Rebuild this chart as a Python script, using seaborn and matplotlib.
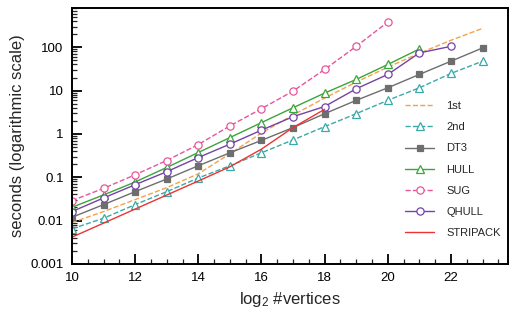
import matplotlib
matplotlib.use("Agg")
import matplotlib.pyplot as plt
import matplotlib.ticker as mticker
import seaborn as sns
import numpy as np
import pandas as pd

# ---- data ----
n_all = [10, 11, 12, 13, 14, 15, 16, 17, 18, 19, 20, 21, 22, 23]
first = [0.0090, 0.0161, 0.0304, 0.0574, 0.120, 0.347, 1.05, 2.73, 6.73, 15.7, 34.7, 72.8, 145, 273]
second = [0.00644, 0.0113, 0.0233, 0.0464, 0.0959, 0.184, 0.366, 0.728, 1.47, 2.93, 5.95, 11.6, 24.9, 47.7]
dt3 = [0.0119, 0.0233, 0.0464, 0.0909, 0.184, 0.366, 0.709, 1.40, 2.93, 5.95, 11.6, 23.6, 47.7, 96.4]
n_hull = [10, 11, 12, 13, 14, 15, 16, 17, 18, 19, 20, 21]
hull = [0.0202, 0.0390, 0.0776, 0.168, 0.372, 0.822, 1.82, 4.02, 8.76, 18.1, 40.0, 91.4]
n_sug = [10, 11, 12, 13, 14, 15, 16, 17, 18, 19, 20]
sug = [0.0288, 0.0553, 0.114, 0.243, 0.568, 1.53, 3.82, 9.74, 30.7, 105, 382]
n_qhull = [10, 11, 12, 13, 14, 15, 16, 17, 18, 19, 20, 21, 22]
qhull = [0.0161, 0.0332, 0.0672, 0.134, 0.285, 0.580, 1.22, 2.50, 4.29, 11.0, 23.6, 74.0, 105]
n_strip = [10, 11, 12, 13, 14, 15, 16, 17, 18]
stripack = [0.00413, 0.00871, 0.0184, 0.0388, 0.0818, 0.174, 0.445, 1.40, 3.70]

x_ticks = [10, 12, 14, 16, 18, 20, 22]
y_ticks = [0.001, 0.01, 0.1, 1, 10, 100]
y_ticklabels = ["0.001", "0.01", "0.1", "1", "10", "100"]

sns.set_style("white")
plt.rcParams["font.family"] = ["Liberation Sans", "DejaVu Sans"]
plt.rcParams["mathtext.fontset"] = "custom"
plt.rcParams["mathtext.rm"] = "Liberation Sans"
plt.rcParams["mathtext.it"] = "Liberation Sans:italic"

fig = plt.figure(figsize=(5.14, 3.13), dpi=100)
ax = fig.add_axes([0.140, 0.157, 0.848, 0.817])

series = [
    ("1st", n_all, first, "#f4a24a", "--", None, "none"),
    ("2nd", n_all, second, "#3aa9a9", "--", "^", "white"),
    ("DT3", n_all, dt3, "#6e6e6e", "-", "s", "#6e6e6e"),
    ("HULL", n_hull, hull, "#3aa53a", "-", "^", "white"),
    ("SUG", n_sug, sug, "#e8559c", "--", "o", "white"),
    ("QHULL", n_qhull, qhull, "#7443a6", "-", "o", "white"),
    ("STRIPACK", n_strip, stripack, "#ee3333", "-", None, "none"),
]

for name, xs, ys, col, ls, mk, mfc in series:
    df = pd.DataFrame({"n": xs, "t": ys})
    kw = dict(color=col, linestyle=ls, linewidth=1.0, label=name)
    if mk is not None:
        ms = 4.3 if mk == "s" else 5.2
        kw.update(marker=mk, markersize=ms, markerfacecolor=mfc,
                  markeredgecolor=col, markeredgewidth=0.9)
    if ls == "--":
        kw.update(dashes=(5, 3.5))
    sns.lineplot(data=df, x="n", y="t", ax=ax, **kw)

ax.set_yscale("log")
ax.set_xlim(10, 23.8)
ax.set_ylim(0.001, 800)

ax.xaxis.set_major_locator(mticker.FixedLocator(x_ticks))
ax.xaxis.set_minor_locator(mticker.MultipleLocator(0.5))
ax.set_xticklabels([str(v) for v in x_ticks])
ax.yaxis.set_major_locator(mticker.FixedLocator(y_ticks))
ax.yaxis.set_major_formatter(mticker.FixedFormatter(y_ticklabels))
ax.yaxis.set_minor_locator(mticker.LogLocator(base=10, subs=np.arange(2, 10), numticks=20))
ax.yaxis.set_minor_formatter(mticker.NullFormatter())

ax.tick_params(which="major", direction="in", length=7, width=1.3, labelsize=9.5,
               colors="black", top=False, right=False, pad=6)
ax.tick_params(which="minor", direction="in", length=3.5, width=0.9,
               top=False, right=False)
ax.tick_params(axis="x", which="both", bottom=True)
ax.tick_params(axis="y", which="both", left=True)

for sp in ax.spines.values():
    sp.set_linewidth(1.4)
    sp.set_color("black")

ax.set_xlabel(r"log$_2$ #vertices", fontsize=12, labelpad=4)
ax.set_ylabel("seconds (logarithmic scale)", fontsize=12, labelpad=4)

ax.legend(loc="upper left", bbox_to_anchor=(0.765, 0.636), frameon=False,
          fontsize=8, handlelength=2.6, handletextpad=1.1, labelspacing=1.0,
          borderpad=0, borderaxespad=0)

fig.savefig("out.png", dpi=100)
